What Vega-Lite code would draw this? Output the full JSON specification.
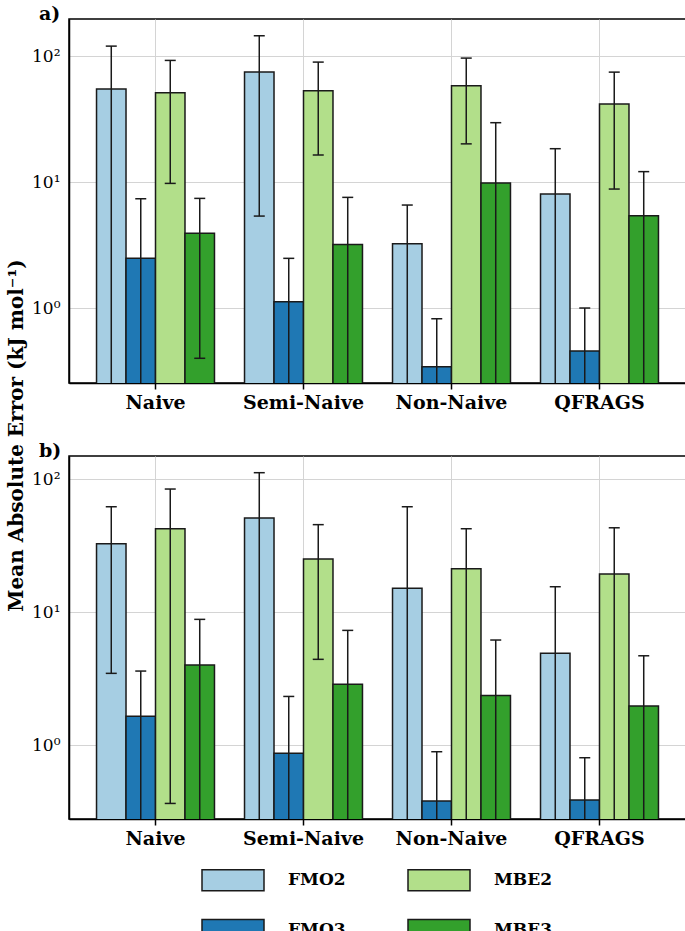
{
  "$schema": "https://vega.github.io/schema/vega-lite/v6.json",
  "background": "white",
  "padding": {"left": 5, "right": 0, "top": 4, "bottom": 0},
  "datasets": {
    "a": [
      {"method": "Naive", "model": "FMO2", "mae": 54.7, "lo": 0.01, "hi": 120},
      {"method": "Naive", "model": "FMO3", "mae": 2.48, "lo": 0.01, "hi": 7.37},
      {"method": "Naive", "model": "MBE2", "mae": 51.1, "lo": 9.76, "hi": 92.4},
      {"method": "Naive", "model": "MBE3", "mae": 3.92, "lo": 0.399, "hi": 7.42},
      {"method": "Semi-Naive", "model": "FMO2", "mae": 74.6, "lo": 5.37, "hi": 145},
      {"method": "Semi-Naive", "model": "FMO3", "mae": 1.12, "lo": 0.01, "hi": 2.48},
      {"method": "Semi-Naive", "model": "MBE2", "mae": 53.1, "lo": 16.4, "hi": 89.6},
      {"method": "Semi-Naive", "model": "MBE3", "mae": 3.19, "lo": 0.01, "hi": 7.56},
      {"method": "Non-Naive", "model": "FMO2", "mae": 3.24, "lo": 0.01, "hi": 6.57},
      {"method": "Non-Naive", "model": "FMO3", "mae": 0.342, "lo": 0.01, "hi": 0.822},
      {"method": "Non-Naive", "model": "MBE2", "mae": 58.2, "lo": 20.1, "hi": 96.4},
      {"method": "Non-Naive", "model": "MBE3", "mae": 9.82, "lo": 0.01, "hi": 29.6},
      {"method": "QFRAGS", "model": "FMO2", "mae": 8.03, "lo": 0.01, "hi": 18.4},
      {"method": "QFRAGS", "model": "FMO3", "mae": 0.456, "lo": 0.01, "hi": 1.0},
      {"method": "QFRAGS", "model": "MBE2", "mae": 41.6, "lo": 8.8, "hi": 74.6},
      {"method": "QFRAGS", "model": "MBE3", "mae": 5.4, "lo": 0.01, "hi": 12.1}
    ],
    "b": [
      {"method": "Naive", "model": "FMO2", "mae": 32.6, "lo": 3.46, "hi": 61.9},
      {"method": "Naive", "model": "FMO3", "mae": 1.65, "lo": 0.01, "hi": 3.6},
      {"method": "Naive", "model": "MBE2", "mae": 42.3, "lo": 0.364, "hi": 84.1},
      {"method": "Naive", "model": "MBE3", "mae": 4.0, "lo": 0.01, "hi": 8.81},
      {"method": "Semi-Naive", "model": "FMO2", "mae": 50.9, "lo": 0.01, "hi": 111.6},
      {"method": "Semi-Naive", "model": "FMO3", "mae": 0.866, "lo": 0.01, "hi": 2.32},
      {"method": "Semi-Naive", "model": "MBE2", "mae": 25.0, "lo": 4.41, "hi": 45.4},
      {"method": "Semi-Naive", "model": "MBE3", "mae": 2.86, "lo": 0.01, "hi": 7.28},
      {"method": "Non-Naive", "model": "FMO2", "mae": 15.1, "lo": 0.01, "hi": 61.9},
      {"method": "Non-Naive", "model": "FMO3", "mae": 0.379, "lo": 0.01, "hi": 0.891},
      {"method": "Non-Naive", "model": "MBE2", "mae": 21.2, "lo": 0.01, "hi": 42.3},
      {"method": "Non-Naive", "model": "MBE3", "mae": 2.36, "lo": 0.01, "hi": 6.16},
      {"method": "QFRAGS", "model": "FMO2", "mae": 4.89, "lo": 0.01, "hi": 15.5},
      {"method": "QFRAGS", "model": "FMO3", "mae": 0.386, "lo": 0.01, "hi": 0.803},
      {"method": "QFRAGS", "model": "MBE2", "mae": 19.3, "lo": 0.01, "hi": 43.0},
      {"method": "QFRAGS", "model": "MBE3", "mae": 1.97, "lo": 0.01, "hi": 4.69}
    ]
  },
  "config": {
    "font": "DejaVu Serif",
    "view": {"stroke": "#000000", "strokeWidth": 1.5},
    "axis": {
      "labelFont": "DejaVu Serif",
      "labelColor": "#000000",
      "domainColor": "#000000",
      "domainWidth": 1.5,
      "gridColor": "#d4d4d4",
      "gridWidth": 1,
      "titleFont": "DejaVu Serif",
      "titleColor": "#000000"
    },
    "title": {"font": "DejaVu Serif", "fontWeight": "bold", "fontSize": 19, "color": "#000000"}
  },
  "bounds": "flush",
  "spacing": 73,
  "vconcat": [
    {
      "title": {"text": "a)", "anchor": "start", "frame": "group", "dx": -30, "offset": -5},
      "width": 617,
      "height": 364,
      "data": {"name": "a"},
      "encoding": {
        "x": {
          "field": "method", "type": "nominal",
          "sort": ["Naive", "Semi-Naive", "Non-Naive", "QFRAGS"],
          "scale": {"paddingInner": 0.203, "paddingOuter": 0.186},
          "axis": {"title": null, "labelAngle": 0, "labelFontSize": 19, "labelFontWeight": "bold", "grid": true, "bandPosition": 0.5, "tickSize": 6, "tickColor": "#000000", "tickWidth": 1.5, "labelPadding": 4}
        },
        "xOffset": {"field": "model", "type": "nominal", "sort": ["FMO2", "FMO3", "MBE2", "MBE3"], "scale": {"paddingInner": 0, "paddingOuter": 0}}
      },
      "layer": [
        {
          "mark": {"type": "bar", "stroke": "#1a1a1a", "strokeWidth": 1.5, "clip": true},
          "encoding": {
            "y": {
              "field": "mae", "type": "quantitative", "stack": null,
              "title": "Mean Absolute Error (kJ mol⁻¹)",
              "scale": {"type": "log", "domain": [0.254, 197], "nice": false},
              "axis": {"titleFontSize": 20, "titleFontWeight": "bold", "titleY": 416, "titleX": -43, "titleAlign": "center", "titleBaseline": "bottom", "titleAngle": 270, "values": [1, 10, 100], "labelExpr": "datum.value == 1 ? '10⁰' : datum.value == 10 ? '10¹' : '10²'", "labelFontSize": 17, "ticks": false, "labelPadding": 9, "grid": true}
            },
            "y2": {"datum": 0.001},
            "color": {
              "field": "model", "type": "nominal",
              "scale": {"domain": ["FMO2", "MBE2", "FMO3", "MBE3"], "range": ["#a6cee3", "#b2df8a", "#1f78b4", "#33a02c"]},
              "legend": {"title": null, "orient": "none", "direction": "horizontal", "legendX": 132, "legendY": 829, "columns": 2, "values": ["FMO2", "MBE2", "FMO3", "MBE3"], "symbolType": "M-1,-0.34H1V0.34H-1Z", "symbolSize": 3844, "symbolStrokeColor": "#1a1a1a", "symbolStrokeWidth": 1.5, "labelFont": "DejaVu Serif", "labelFontSize": 17, "labelFontWeight": "bold", "labelColor": "#000000", "labelOffset": 23, "columnPadding": 59, "rowPadding": 4, "symbolOpacity": 1}
            }
          }
        },
        {
          "mark": {"type": "rule", "color": "#1a1a1a", "strokeWidth": 1.5, "clip": true},
          "encoding": {"y": {"field": "lo", "type": "quantitative", "title": "Mean Absolute Error (kJ mol⁻¹)"}, "y2": {"field": "hi"}}
        },
        {
          "mark": {"type": "tick", "color": "#1a1a1a", "thickness": 1.5, "clip": true, "opacity": 1},
          "encoding": {"y": {"field": "hi", "type": "quantitative", "title": "Mean Absolute Error (kJ mol⁻¹)"}, "size": {"value": 11}}
        },
        {
          "mark": {"type": "tick", "color": "#1a1a1a", "thickness": 1.5, "clip": true, "opacity": 1},
          "encoding": {"y": {"field": "lo", "type": "quantitative", "title": "Mean Absolute Error (kJ mol⁻¹)"}, "size": {"value": 11}}
        }
      ]
    },
    {
      "title": {"text": "b)", "anchor": "start", "frame": "group", "dx": -30, "offset": -5},
      "width": 617,
      "height": 363,
      "data": {"name": "b"},
      "encoding": {
        "x": {
          "field": "method", "type": "nominal",
          "sort": ["Naive", "Semi-Naive", "Non-Naive", "QFRAGS"],
          "scale": {"paddingInner": 0.203, "paddingOuter": 0.186},
          "axis": {"title": null, "labelAngle": 0, "labelFontSize": 19, "labelFontWeight": "bold", "grid": true, "bandPosition": 0.5, "tickSize": 6, "tickColor": "#000000", "tickWidth": 1.5, "labelPadding": 4}
        },
        "xOffset": {"field": "model", "type": "nominal", "sort": ["FMO2", "FMO3", "MBE2", "MBE3"], "scale": {"paddingInner": 0, "paddingOuter": 0}}
      },
      "layer": [
        {
          "mark": {"type": "bar", "stroke": "#1a1a1a", "strokeWidth": 1.5, "clip": true},
          "encoding": {
            "y": {
              "field": "mae", "type": "quantitative", "stack": null, "title": "",
              "scale": {"type": "log", "domain": [0.278, 149], "nice": false},
              "axis": {"values": [1, 10, 100], "labelExpr": "datum.value == 1 ? '10⁰' : datum.value == 10 ? '10¹' : '10²'", "labelFontSize": 17, "ticks": false, "labelPadding": 9, "grid": true}
            },
            "y2": {"datum": 0.001},
            "color": {
              "field": "model", "type": "nominal",
              "scale": {"domain": ["FMO2", "MBE2", "FMO3", "MBE3"], "range": ["#a6cee3", "#b2df8a", "#1f78b4", "#33a02c"]}
            }
          }
        },
        {
          "mark": {"type": "rule", "color": "#1a1a1a", "strokeWidth": 1.5, "clip": true},
          "encoding": {"y": {"field": "lo", "type": "quantitative", "title": ""}, "y2": {"field": "hi"}}
        },
        {
          "mark": {"type": "tick", "color": "#1a1a1a", "thickness": 1.5, "clip": true, "opacity": 1},
          "encoding": {"y": {"field": "hi", "type": "quantitative", "title": ""}, "size": {"value": 11}}
        },
        {
          "mark": {"type": "tick", "color": "#1a1a1a", "thickness": 1.5, "clip": true, "opacity": 1},
          "encoding": {"y": {"field": "lo", "type": "quantitative", "title": ""}, "size": {"value": 11}}
        }
      ]
    }
  ],
  "resolve": {"scale": {"color": "shared"}, "legend": {"color": "shared"}}
}
